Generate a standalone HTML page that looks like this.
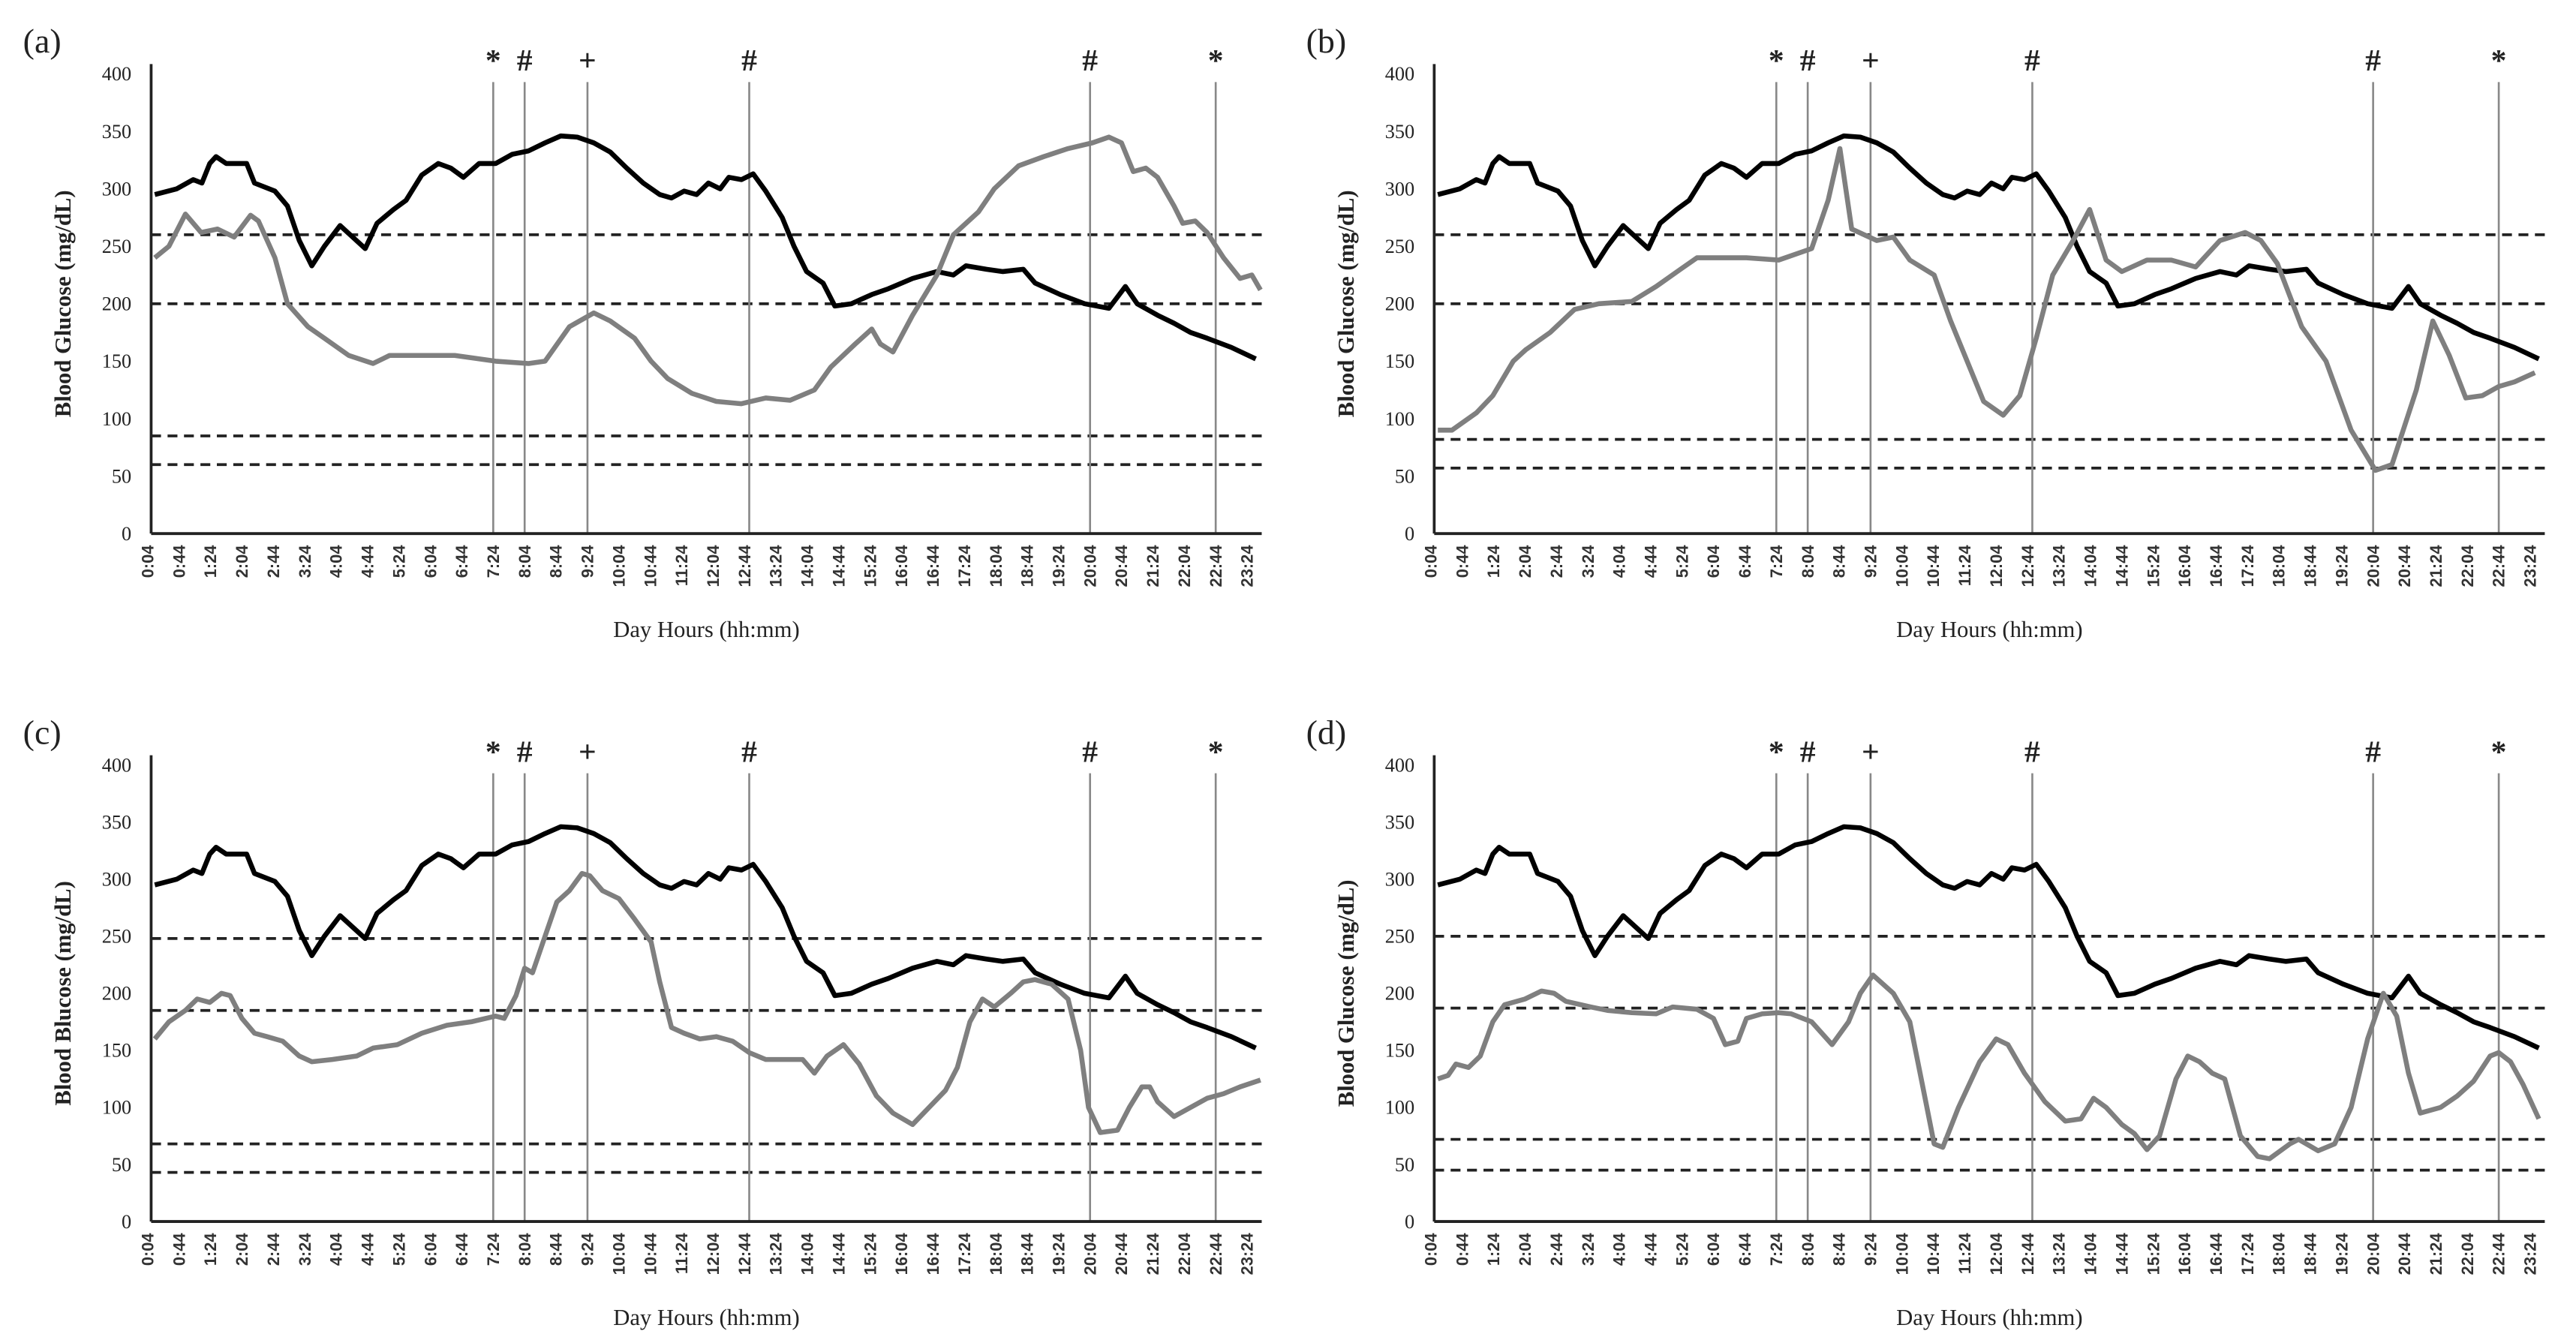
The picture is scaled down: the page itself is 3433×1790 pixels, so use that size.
<!DOCTYPE html>
<html><head><meta charset="utf-8">
<style>
html,body{margin:0;padding:0;background:#fff;}
svg{display:block;}
text{font-family:"Liberation Serif",serif;fill:#222;}
.xt{font-family:"Liberation Sans",sans-serif;font-size:10px;font-weight:bold;fill:#333;}
</style></head>
<body>
<svg id="chart" width="3433" height="1790" viewBox="0 0 1568 818" preserveAspectRatio="none" xmlns="http://www.w3.org/2000/svg"></svg>
<script>
// ---- data (times in minutes from midnight, values mg/dL) ----
const xTickLabels = ["0:04","0:44","1:24","2:04","2:44","3:24","4:04","4:44","5:24","6:04","6:44","7:24","8:04","8:44","9:24","10:04","10:44","11:24","12:04","12:44","13:24","14:04","14:44","15:24","16:04","16:44","17:24","18:04","18:44","19:24","20:04","20:44","21:24","22:04","22:44","23:24"];
const xTickTimes = [4,44,84,124,164,204,244,284,324,364,404,444,484,524,564,604,644,684,724,764,804,844,884,924,964,1004,1044,1084,1124,1164,1204,1244,1284,1324,1364,1404];
const yTicks = [0,50,100,150,200,250,300,350,400];
const markerTimes = [444,484,564,770,1204,1364];
const markerSymbols = ["*","#","+","#","#","*"];

const blackT = [13,41,62,73,83,91,104,130,140,166,182,197,213,229,249,265,281,296,317,333,353,374,390,406,426,447,468,489,510,530,551,572,593,614,635,656,671,687,703,718,733,744,760,775,791,812,827,843,864,879,900,926,947,978,1009,1030,1046,1072,1093,1119,1134,1166,1197,1228,1249,1264,1290,1311,1332,1353,1384,1415];
const blackV = [295,300,308,305,322,328,322,322,305,298,285,255,233,250,268,258,248,270,282,290,312,322,318,310,322,322,330,333,340,346,345,340,332,318,305,295,292,298,295,305,300,310,308,313,298,275,250,228,218,198,200,208,213,222,228,225,233,230,228,230,218,208,200,196,215,200,190,183,175,170,162,152];

const grayAT = [13,31,52,72,93,114,135,145,166,182,208,229,260,291,312,343,395,447,489,510,541,572,593,624,645,666,697,728,760,791,822,853,874,905,926,937,953,978,1009,1030,1062,1082,1113,1145,1176,1207,1228,1244,1259,1275,1290,1311,1322,1338,1353,1374,1395,1410,1421];
const grayAV = [240,250,278,262,265,258,277,272,240,200,180,170,155,148,155,155,155,150,148,150,180,192,185,170,150,135,122,115,113,118,116,125,145,165,178,165,158,190,225,260,280,300,320,328,335,340,345,340,315,318,310,285,270,272,262,240,222,225,212];

const grayBT = [13,31,62,83,109,125,156,187,218,260,291,322,343,406,447,489,510,525,540,572,593,614,645,666,687,708,733,754,775,796,822,843,864,884,916,947,978,1009,1041,1061,1082,1113,1144,1176,1207,1228,1259,1280,1301,1322,1343,1364,1384,1410];
const grayBV = [90,90,105,120,150,160,175,195,200,202,215,230,240,240,238,248,290,335,265,255,258,238,225,185,150,115,103,120,170,225,255,282,238,228,238,238,232,255,262,255,235,180,150,90,55,60,125,185,155,118,120,128,132,140];

const grayCT = [13,31,52,67,83,98,109,124,140,156,176,197,213,239,270,291,322,353,385,416,447,458,473,484,494,510,525,541,557,567,583,604,624,645,656,671,687,707,728,749,770,791,822,838,853,869,890,910,932,953,978,999,1020,1035,1051,1067,1082,1103,1119,1134,1155,1176,1192,1202,1217,1239,1254,1270,1280,1290,1311,1332,1353,1374,1395,1421];
const grayCV = [160,175,185,195,192,200,198,178,165,162,158,145,140,142,145,152,155,165,172,175,180,178,198,222,218,250,280,290,305,303,290,283,265,245,210,170,165,160,162,158,148,142,142,142,130,145,155,138,110,95,85,100,115,135,175,195,188,200,210,212,208,195,150,100,78,80,100,118,118,105,92,100,108,112,118,124];

const grayDT = [13,26,36,52,67,83,98,124,145,161,176,208,229,260,291,312,343,364,379,395,406,426,447,463,489,515,536,551,567,593,614,630,645,656,676,703,724,739,760,786,812,832,848,864,884,900,916,932,953,968,983,999,1015,1035,1057,1072,1098,1109,1134,1155,1176,1197,1217,1234,1249,1264,1290,1311,1332,1353,1364,1379,1395,1415];
const grayDV = [125,128,138,135,145,175,190,195,202,200,193,188,185,183,182,188,186,178,155,158,178,182,183,182,175,155,175,200,216,200,175,120,68,65,100,140,160,155,130,105,88,90,108,100,85,77,63,75,125,145,140,130,125,75,57,55,68,72,62,68,100,160,200,180,130,95,100,110,123,145,148,140,120,90];

const dashA = [260,200,85,60];
const dashB = [260,200,82,57];
const dashC = [248,185,68,43];
const dashD = [250,187,72,45];

// ---- layout ----
const NS = "http://www.w3.org/2000/svg";
const svg = document.getElementById("chart");
function mk(tag, attrs, parent){ const e=document.createElementNS(NS,tag); for(const k in attrs) e.setAttribute(k,attrs[k]); (parent||svg).appendChild(e); return e; }

const panels = [
 {id:"a", ox:0,   y0:325, yTop:45,  gT:grayAT, gV:grayAV, dash:dashA, title:"Blood Glucose (mg/dL)"},
 {id:"b", ox:781, y0:325, yTop:45,  gT:grayBT, gV:grayBV, dash:dashB, title:"Blood Glucose (mg/dL)"},
 {id:"c", ox:0,   y0:744, yTop:466, gT:grayCT, gV:grayCV, dash:dashC, title:"Blood Blucose (mg/dL)"},
 {id:"d", ox:781, y0:744, yTop:466, gT:grayDT, gV:grayDV, dash:dashD, title:"Blood Glucose (mg/dL)"}
];

panels.forEach(p=>{
  const g = mk("g",{});
  
  
  const xS = t => p.ox + 88 + t*0.478;
  const yS = v => p.y0 - v*(p.y0-p.yTop)/400;
  const xL = p.ox+92, xR = p.ox+768;

  const lab = mk("text",{x:p.ox+14, y:p.yTop-13, "font-size":21},g);
  lab.textContent = "("+p.id+")";
  
  

  p.dash.forEach(v=>{
    const l = mk("line",{x1:xL, x2:xR, y1:yS(v), y2:yS(v), stroke:"#222", "stroke-width":1.7, "stroke-dasharray":"6,4"},g);
    
    
  });

  markerTimes.forEach((t,i)=>{
    const l = mk("line",{x1:xS(t), x2:xS(t), y1:p.yTop+5, y2:p.y0, stroke:"#888", "stroke-width":1.2},g);
    
    
    const m = mk("text",{x:xS(t), y:p.yTop-2, "font-size":19, "text-anchor":"middle", "font-weight":"bold"},g);
    m.textContent = markerSymbols[i];
    
    
  });

  const ya = mk("line",{x1:xL, x2:xL, y1:p.yTop-6, y2:p.y0, stroke:"#222", "stroke-width":1.7},g);
  
  
  const xa = mk("line",{x1:xL, x2:xR, y1:p.y0, y2:p.y0, stroke:"#222", "stroke-width":1.8},g);
  
  

  yTicks.forEach(v=>{
    const t = mk("text",{x:p.ox+80, y:yS(v)+4, "font-size":12, "text-anchor":"end"},g);
    t.textContent = v;
    
    
  });
  xTickLabels.forEach((s,i)=>{
    const x = xS(xTickTimes[i])+3.5, y = p.y0+7;
    const t = mk("text",{x:x, y:y, class:"xt", "text-anchor":"end", transform:"rotate(-90 "+x+" "+y+")"},g);
    t.textContent = s;
    
    
  });

  const yt = mk("text",{x:0, y:0, "font-size":14, "font-weight":"bold", fill:"#444", "text-anchor":"middle", transform:"translate("+(p.ox+43)+","+((p.y0+p.yTop)/2)+") rotate(-90)"},g);
  yt.textContent = p.title;
  
  
  const xt = mk("text",{x:p.ox+430, y:p.y0+63, "font-size":14, "text-anchor":"middle"},g);
  xt.textContent = "Day Hours (hh:mm)";
  
  

  const bl = mk("polyline",{points:blackT.map((t,i)=>xS(t)+","+yS(blackV[i])).join(" "), fill:"none", stroke:"#000", "stroke-width":3, "stroke-linejoin":"round"},g);
  
  
  const gl = mk("polyline",{points:p.gT.map((t,i)=>xS(t)+","+yS(p.gV[i])).join(" "), fill:"none", stroke:"#7f7f7f", "stroke-width":3, "stroke-linejoin":"round"},g);
  
  
});
</script>
</body></html>
